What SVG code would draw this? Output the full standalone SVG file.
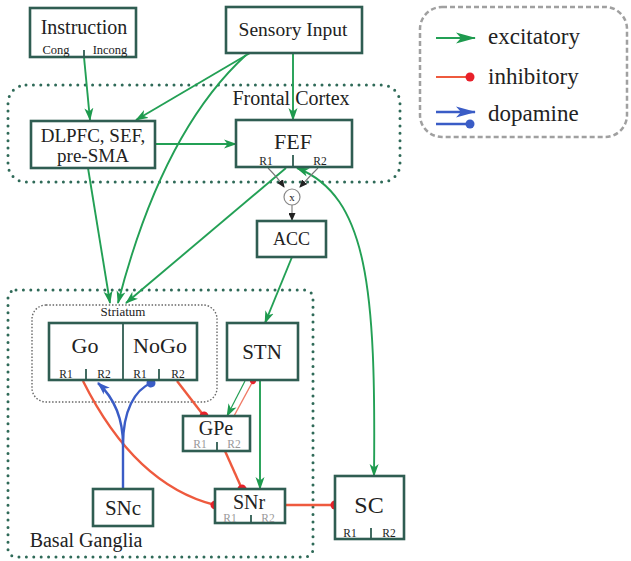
<svg xmlns="http://www.w3.org/2000/svg" width="631" height="561" viewBox="0 0 631 561" font-family="'Liberation Serif', 'Times New Roman', 'DejaVu Serif', serif">
<style>
text{font-family:'Liberation Serif','Times New Roman','DejaVu Serif',serif;fill:#222;text-anchor:middle}
.box{fill:#fff;stroke:#2f5d52;stroke-width:2.6}
.tick{stroke:#2f5d52;stroke-width:1.8}
.r{font-size:11.5px}
.rg{font-size:11.5px;fill:#999}
.exc{fill:none;stroke:#23a055;stroke-width:1.9}
.inh{fill:none;stroke:#ee5a3e;stroke-width:2.4}
.dop{fill:none;stroke:#3a5cc6;stroke-width:2.4}
.dots{fill:none;stroke:#2f6a58;stroke-width:3;stroke-dasharray:0 7.4;stroke-linecap:round}
.fine{fill:none;stroke:#666;stroke-width:1.4;stroke-dasharray:1.5 1.8}
.gr{fill:none;stroke:#777;stroke-width:1.1}
</style>
<defs>
<marker id="ag" markerWidth="13" markerHeight="10" refX="12" refY="5" orient="auto-start-reverse" markerUnits="userSpaceOnUse"><path d="M0,0.5 L13,5 L0,9.5 L3.5,5 z" fill="#1e9a4e"/></marker>
<marker id="agL" markerWidth="20" markerHeight="12" refX="19" refY="6" orient="auto" markerUnits="userSpaceOnUse"><path d="M0,0.5 L20,6 L0,11.5 L5,6 z" fill="#1e9a4e"/></marker>
<marker id="dr" markerWidth="10" markerHeight="10" refX="5" refY="5" orient="auto" markerUnits="userSpaceOnUse"><circle cx="5" cy="5" r="4.5" fill="#e8202a"/></marker>
<marker id="drs" markerWidth="8" markerHeight="8" refX="4" refY="4" orient="auto" markerUnits="userSpaceOnUse"><circle cx="4" cy="4" r="3" fill="#e8202a"/></marker>
<marker id="ab" markerWidth="13" markerHeight="10" refX="12" refY="5" orient="auto" markerUnits="userSpaceOnUse"><path d="M0,0.5 L13,5 L0,9.5 L3.5,5 z" fill="#3a5cc6"/></marker>
<marker id="abL" markerWidth="20" markerHeight="12" refX="19" refY="6" orient="auto" markerUnits="userSpaceOnUse"><path d="M0,0.5 L20,6 L0,11.5 L5,6 z" fill="#3a5cc6"/></marker>
<marker id="db" markerWidth="10" markerHeight="10" refX="5" refY="5" orient="auto" markerUnits="userSpaceOnUse"><circle cx="5" cy="5" r="4.5" fill="#3a5cc6"/></marker>
<marker id="ak" markerWidth="8" markerHeight="7" refX="7" refY="3.5" orient="auto" markerUnits="userSpaceOnUse"><path d="M0,0 L8,3.5 L0,7 z" fill="#222"/></marker>
</defs>

<g id="regions">
<rect class="dots" x="8" y="85" width="392" height="97" rx="18"/>
<text x="291" y="105" font-size="20">Frontal Cortex</text>
<rect class="dots" x="8" y="290" width="305" height="267" rx="8"/>
<text x="86" y="547" font-size="20">Basal Ganglia</text>
<rect class="fine" x="32" y="305" width="185" height="97" rx="14"/>
<text x="123" y="316" font-size="13">Striatum</text>
</g>

<g id="legend">
<rect x="420" y="7" width="207" height="130" rx="22" fill="none" stroke="#a0a0a0" stroke-width="2.5" stroke-dasharray="5 3"/>
<line x1="436" y1="38" x2="475" y2="38" stroke="#23a055" stroke-width="2" marker-end="url(#agL)"/>
<text x="488" y="44" font-size="23" text-anchor="start" style="text-anchor:start">excitatory</text>
<line x1="436" y1="77" x2="470" y2="77" stroke="#ee5a3e" stroke-width="2" marker-end="url(#dr)"/>
<text x="488" y="84" font-size="23" style="text-anchor:start">inhibitory</text>
<line x1="436" y1="112" x2="475" y2="112" stroke="#3a5cc6" stroke-width="2.4" marker-end="url(#abL)"/>
<line x1="436" y1="124" x2="470" y2="124" stroke="#3a5cc6" stroke-width="2.4" marker-end="url(#db)"/>
<text x="488" y="121" font-size="23" style="text-anchor:start">dopamine</text>
</g>

<g id="connectors">
<line class="exc" x1="84" y1="57" x2="90" y2="120" marker-end="url(#ag)"/>
<line class="exc" x1="250" y1="53" x2="136" y2="120" marker-end="url(#ag)"/>
<path class="exc" d="M246,55 Q162,132 118,303" marker-end="url(#ag)"/>
<line class="exc" x1="293" y1="53" x2="293" y2="120" marker-end="url(#ag)"/>
<line class="exc" x1="155" y1="144" x2="236" y2="144" marker-end="url(#ag)"/>
<line class="exc" x1="88" y1="168" x2="110" y2="303" marker-end="url(#ag)"/>
<line class="exc" x1="286" y1="168" x2="126" y2="303" marker-end="url(#ag)"/>
<path class="exc" d="M297,168 C368,196 376,290 374,476" marker-start="url(#ag)" marker-end="url(#ag)"/>
<line class="exc" x1="292" y1="257" x2="265" y2="323" marker-end="url(#ag)"/>
<line class="exc" x1="260" y1="380" x2="260" y2="489" marker-end="url(#ag)"/>
<line x1="245" y1="381" x2="227" y2="416" fill="none" stroke="#23a055" stroke-width="1.2" marker-end="url(#ag)"/>
<line x1="234" y1="416" x2="253" y2="381" fill="none" stroke="#f07a66" stroke-width="1.4" marker-end="url(#drs)"/>
<line class="inh" x1="177" y1="381" x2="204" y2="416" marker-end="url(#dr)"/>
<line class="inh" x1="225" y1="451" x2="242" y2="489" marker-end="url(#dr)"/>
<path class="inh" d="M83,381 Q135,485 215,505" marker-end="url(#dr)"/>
<line class="inh" x1="285" y1="505" x2="335" y2="505" marker-end="url(#dr)"/>
<path class="dop" d="M123,489 L123,445 C123,415 112,396 98,383" marker-end="url(#ab)"/>
<path class="dop" d="M123,445 C123,410 135,390 151,383" marker-end="url(#db)"/>
<path class="gr" d="M268,168 Q278,178 284,187" marker-end="url(#ak)"/>
<path class="gr" d="M318,168 Q308,178 300,187" marker-end="url(#ak)"/>
<line class="gr" x1="292" y1="205" x2="292" y2="220" marker-end="url(#ak)"/>
</g>

<g id="mult">
<circle cx="292" cy="197" r="8" fill="#fff" stroke="#888" stroke-width="1.2"/>
<text x="292" y="201" font-size="11">x</text>
</g>

<g id="instruction">
<rect class="box" x="30" y="8" width="106" height="49"/>
<text x="84" y="34" font-size="20">Instruction</text>
<text x="56" y="54" font-size="12.5">Cong</text>
<text x="110" y="54" font-size="12.5">Incong</text>
<line class="tick" x1="84" y1="50" x2="84" y2="57"/>
</g>

<g id="sensory">
<rect class="box" x="226" y="7" width="136" height="46"/>
<text x="293" y="36" font-size="19.5">Sensory Input</text>
</g>

<g id="dlpfc">
<rect class="box" x="31" y="121" width="124" height="47"/>
<text x="93" y="142" font-size="19">DLPFC, SEF,</text>
<text x="93" y="162" font-size="19">pre-SMA</text>
</g>

<g id="fef">
<rect class="box" x="236" y="120" width="116" height="47"/>
<text x="293" y="149" font-size="22">FEF</text>
<text class="r" x="266" y="165">R1</text>
<text class="r" x="320" y="165">R2</text>
<line class="tick" x1="293" y1="155" x2="293" y2="167"/>
</g>

<g id="acc">
<rect class="box" x="257" y="221" width="69" height="36"/>
<text x="291.5" y="245" font-size="18">ACC</text>
</g>

<g id="striatum">
<rect class="box" x="49" y="323" width="148" height="57"/>
<line class="tick" x1="123" y1="323" x2="123" y2="380"/>
<text x="85" y="353" font-size="22">Go</text>
<text x="160" y="353" font-size="22">NoGo</text>
<text class="r" x="66" y="378">R1</text>
<text class="r" x="104" y="378">R2</text>
<line class="tick" x1="86" y1="369" x2="86" y2="380"/>
<text class="r" x="140" y="378">R1</text>
<text class="r" x="178" y="378">R2</text>
<line class="tick" x1="159" y1="369" x2="159" y2="380"/>
</g>

<g id="stn">
<rect class="box" x="227" y="323" width="71" height="57"/>
<text x="262" y="359" font-size="21">STN</text>
</g>

<g id="gpe">
<rect class="box" x="183" y="416" width="67" height="35"/>
<text x="216" y="435" font-size="20">GPe</text>
<text class="rg" x="200" y="448">R1</text>
<text class="rg" x="234" y="448">R2</text>
<line class="tick" x1="217" y1="442" x2="217" y2="451"/>
</g>

<g id="snr">
<rect class="box" x="215" y="489" width="70" height="34"/>
<text x="249" y="509" font-size="20">SNr</text>
<text class="rg" x="230" y="522">R1</text>
<text class="rg" x="268" y="522">R2</text>
<line class="tick" x1="251" y1="515" x2="251" y2="523"/>
</g>

<g id="sc">
<rect class="box" x="335" y="476" width="69" height="63"/>
<text x="369" y="513" font-size="24">SC</text>
<text class="r" x="350" y="537">R1</text>
<text class="r" x="389" y="537">R2</text>
<line class="tick" x1="371" y1="528" x2="371" y2="539"/>
</g>

<g id="snc">
<rect class="box" x="93" y="489" width="60" height="37"/>
<text x="123" y="515" font-size="21">SNc</text>
</g>
</svg>
